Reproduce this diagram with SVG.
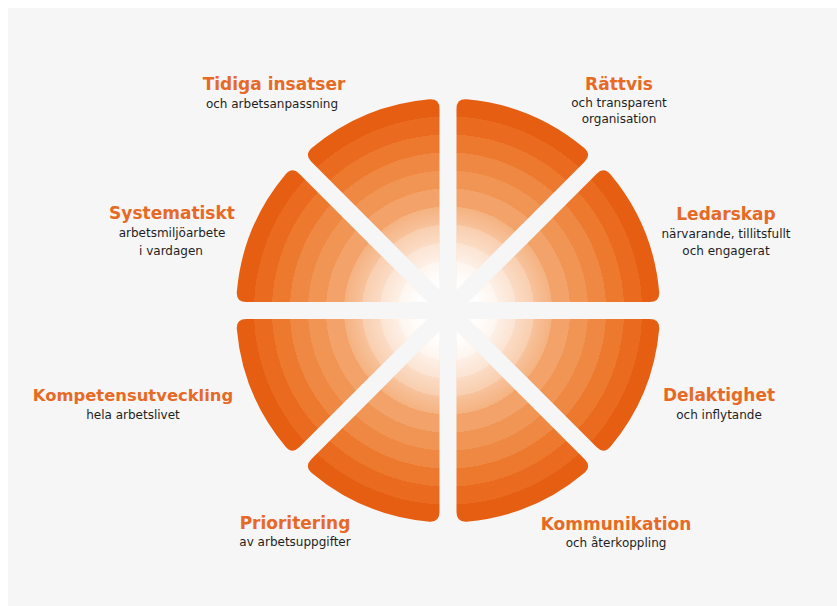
<svg xmlns="http://www.w3.org/2000/svg" xmlns:xlink="http://www.w3.org/1999/xlink" width="837" height="606" viewBox="0 0 837 606">
<style>
.h{font-family:"DejaVu Sans","Liberation Sans",sans-serif;font-weight:bold;font-size:17px;fill:#e66a26;text-anchor:middle}
.s{font-family:"DejaVu Sans","Liberation Sans",sans-serif;font-size:12px;fill:#1e1e1e;text-anchor:middle}
.ring{fill:url(#rg)}
.glow{fill:url(#gl)}
</style>
<defs>
<radialGradient id="rg" gradientUnits="userSpaceOnUse" cx="0" cy="0" r="212">
<stop offset="0" stop-color="#fdeee2"/>
<stop offset="0.1509" stop-color="#fdeee2"/>
<stop offset="0.1509" stop-color="#fbdfc9"/>
<stop offset="0.2358" stop-color="#fbdfc9"/>
<stop offset="0.2358" stop-color="#f9cfb0"/>
<stop offset="0.3208" stop-color="#f9cfb0"/>
<stop offset="0.3208" stop-color="#f7c097"/>
<stop offset="0.4057" stop-color="#f7c097"/>
<stop offset="0.4057" stop-color="#f5b17f"/>
<stop offset="0.4906" stop-color="#f5b17f"/>
<stop offset="0.4906" stop-color="#f3a369"/>
<stop offset="0.5755" stop-color="#f3a369"/>
<stop offset="0.5755" stop-color="#f19555"/>
<stop offset="0.6604" stop-color="#f19555"/>
<stop offset="0.6604" stop-color="#ef8842"/>
<stop offset="0.7453" stop-color="#ef8842"/>
<stop offset="0.7453" stop-color="#ec792e"/>
<stop offset="0.8302" stop-color="#ec792e"/>
<stop offset="0.8302" stop-color="#ea6b1f"/>
<stop offset="0.9151" stop-color="#ea6b1f"/>
<stop offset="0.9151" stop-color="#e65e12"/>
<stop offset="1" stop-color="#e65e12"/>
</radialGradient>
<radialGradient id="gl" gradientUnits="userSpaceOnUse" cx="0" cy="0" r="105">
<stop offset="0" stop-color="#ffffff" stop-opacity="1"/>
<stop offset="0.3" stop-color="#ffffff" stop-opacity="0.95"/>
<stop offset="0.6" stop-color="#ffffff" stop-opacity="0.5"/>
<stop offset="1" stop-color="#ffffff" stop-opacity="0"/>
</radialGradient>
<path id="w" d="M20.51,-8.5 L201.83,-8.5 Q211.83,-8.5 211.19,-18.48 A212,212 0 0 0 162.40,-136.27 Q155.80,-143.78 148.73,-136.71 Z"/>
</defs>
<rect x="0" y="0" width="837" height="606" fill="#ffffff"/>
<rect x="8" y="8" width="829" height="598" fill="#f6f6f6"/>

<g id="ledarskap">
<g transform="translate(448,310.5) rotate(0)"><use href="#w" xlink:href="#w" class="ring"/><use href="#w" xlink:href="#w" class="glow"/></g>
<text class="h" x="726" y="220">Ledarskap</text>
<text class="s" x="726" y="238">närvarande, tillitsfullt</text>
<text class="s" x="726" y="255">och engagerat</text>
</g>

<g id="rattvis">
<g transform="translate(448,310.5) rotate(-45)"><use href="#w" xlink:href="#w" class="ring"/><use href="#w" xlink:href="#w" class="glow"/></g>
<text class="h" x="619" y="90">Rättvis</text>
<text class="s" x="619" y="107">och transparent</text>
<text class="s" x="619" y="123">organisation</text>
</g>

<g id="tidiga-insatser">
<g transform="translate(448,310.5) rotate(-90)"><use href="#w" xlink:href="#w" class="ring"/><use href="#w" xlink:href="#w" class="glow"/></g>
<text class="h" x="274" y="90">Tidiga insatser</text>
<text class="s" x="272" y="108">och arbetsanpassning</text>
</g>

<g id="systematiskt">
<g transform="translate(448,310.5) rotate(-135)"><use href="#w" xlink:href="#w" class="ring"/><use href="#w" xlink:href="#w" class="glow"/></g>
<text class="h" x="172" y="219">Systematiskt</text>
<text class="s" x="172" y="237">arbetsmiljöarbete</text>
<text class="s" x="171" y="255">i vardagen</text>
</g>

<g id="kompetensutveckling">
<g transform="translate(448,310.5) rotate(-180)"><use href="#w" xlink:href="#w" class="ring"/><use href="#w" xlink:href="#w" class="glow"/></g>
<text class="h" x="133" y="401" style="font-size:16.4px">Kompetensutveckling</text>
<text class="s" x="133" y="419">hela arbetslivet</text>
</g>

<g id="prioritering">
<g transform="translate(448,310.5) rotate(-225)"><use href="#w" xlink:href="#w" class="ring"/><use href="#w" xlink:href="#w" class="glow"/></g>
<text class="h" x="295" y="529">Prioritering</text>
<text class="s" x="295" y="546">av arbetsuppgifter</text>
</g>

<g id="kommunikation">
<g transform="translate(448,310.5) rotate(-270)"><use href="#w" xlink:href="#w" class="ring"/><use href="#w" xlink:href="#w" class="glow"/></g>
<text class="h" x="616" y="530">Kommunikation</text>
<text class="s" x="616" y="547">och återkoppling</text>
</g>

<g id="delaktighet">
<g transform="translate(448,310.5) rotate(-315)"><use href="#w" xlink:href="#w" class="ring"/><use href="#w" xlink:href="#w" class="glow"/></g>
<text class="h" x="719" y="401">Delaktighet</text>
<text class="s" x="719" y="419">och inflytande</text>
</g>

<g id="connectors"/>
</svg>
